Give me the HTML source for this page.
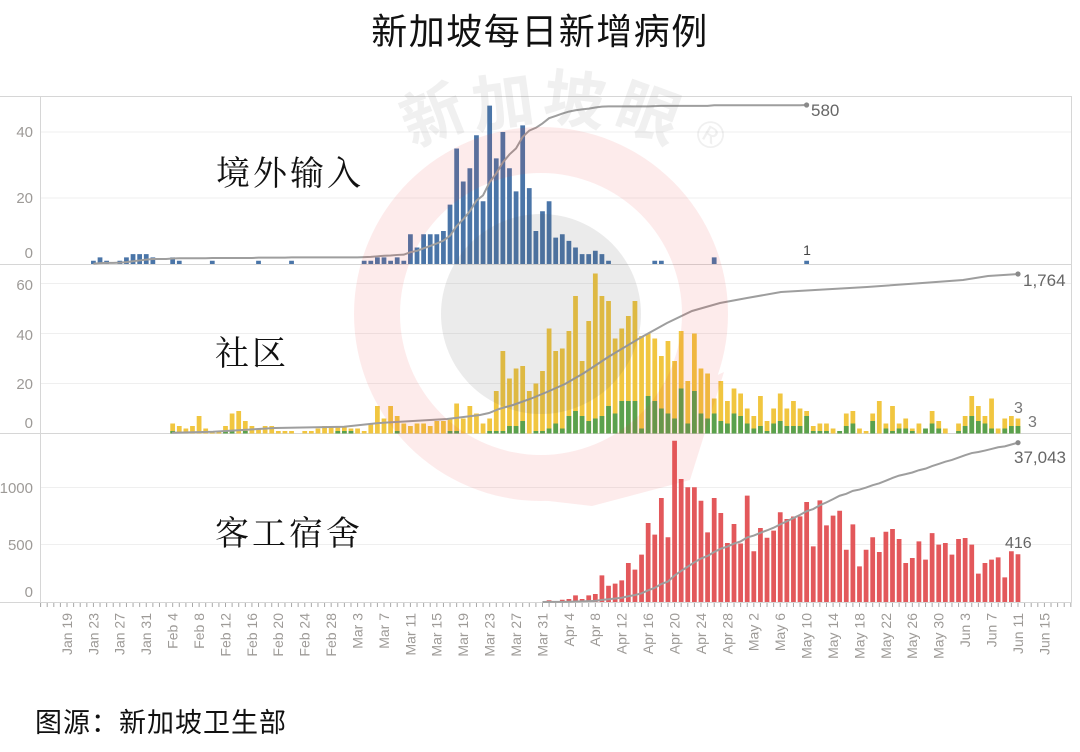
<!DOCTYPE html>
<html><head><meta charset="utf-8"><style>
html,body{margin:0;padding:0;background:#fff;}
svg{display:block;}
</style></head><body>
<svg width="1080" height="752" viewBox="0 0 1080 752" xmlns="http://www.w3.org/2000/svg" font-family="'Liberation Sans','Noto Sans CJK SC',sans-serif">
<rect width="1080" height="752" fill="#fff"/>
<defs>
<mask id="ring" maskUnits="userSpaceOnUse" x="0" y="0" width="1080" height="752">
<rect width="1080" height="752" fill="black"/>
<circle cx="541" cy="314" r="187" fill="white"/>
<polygon points="540,500 592,506 690,480 724,372 620,420" fill="white"/>
<circle cx="541" cy="314" r="141" fill="black"/>
</mask>
</defs>

<!-- title -->
<text x="540" y="44" text-anchor="middle" font-size="36" letter-spacing="1.5" fill="#111">新加坡每日新增病例</text>

<!-- gridlines -->
<g stroke="#efefef" stroke-width="1">
<line x1="41" y1="132" x2="1071" y2="132"/>
<line x1="41" y1="198" x2="1071" y2="198"/>
<line x1="41" y1="283.5" x2="1071" y2="283.5"/>
<line x1="41" y1="333.5" x2="1071" y2="333.5"/>
<line x1="41" y1="383.5" x2="1071" y2="383.5"/>
<line x1="41" y1="487.5" x2="1071" y2="487.5"/>
<line x1="41" y1="544.5" x2="1071" y2="544.5"/>
</g>

<!-- panel lines -->
<g stroke="#d6d6d6" stroke-width="1">
<line x1="0" y1="96.5" x2="1072" y2="96.5"/>
<line x1="0" y1="264.5" x2="1072" y2="264.5"/>
<line x1="0" y1="433.5" x2="1072" y2="433.5"/>
<line x1="0" y1="602.5" x2="1072" y2="602.5"/>
<line x1="40.5" y1="96" x2="40.5" y2="607"/>
<line x1="1071.5" y1="96" x2="1071.5" y2="602"/>
</g>
<line x1="40.1" y1="605" x2="1073" y2="605" stroke="#a8a8a8" stroke-width="4" stroke-dasharray="1 5.604"/>

<!-- top bars -->
<g transform="translate(67,264) scale(6.604,-3.3)">
<path fill="none" stroke="#4a75a8" stroke-width="0.72" d="M4 0V1M5 0V2M6 0V1M8 0V1M9 0V2M10 0V3M11 0V3M12 0V3M13 0V2M16 0V2M17 0V1M22 0V1M29 0V1M34 0V1M45 0V1M46 0V1M47 0V2M48 0V2M49 0V1M50 0V2M51 0V1M52 0V9M53 0V5M54 0V9M55 0V9M56 0V9M57 0V10M58 0V18M59 0V35M60 0V25M61 0V29M62 0V39M63 0V19M64 0V48M65 0V32M66 0V40M67 0V29M68 0V22M69 0V42M70 0V23M71 0V10M72 0V16M73 0V19M74 0V8M75 0V9M76 0V7M77 0V5M78 0V3M79 0V3M80 0V4M81 0V3M82 0V1M89 0V1M90 0V1M98 0V2M112 0V1"/>
</g>
<g transform="translate(67,264) scale(6.604,-0.2746)">
<polyline fill="none" stroke="#9e9e9e" stroke-width="2" vector-effect="non-scaling-stroke" points="4,1 5,3 6,4 7,4 8,5 9,7 10,10 11,13 12,16 13,18 15,18 16,20 17,21 21,21 22,22 28,22 29,23 33,23 34,24 44,24 45,25 46,26 47,28 48,30 49,31 50,33 51,34 52,43 53,48 54,57 55,66 56,75 57,85 58,103 59,138 60,163 61,192 62,231 63,250 64,298 65,330 66,370 67,399 68,421 69,463 70,486 71,496 72,512 73,531 74,539 75,548 76,555 77,560 78,563 79,566 80,570 81,573 82,574 88,574 89,575 90,576 97,576 98,578 111,578 112,579"/>
</g>

<!-- middle bars -->
<g transform="translate(67,433.5) scale(6.604,-2.5)">
<path fill="none" stroke="#f1c640" stroke-width="0.72" d="M16 0V4M17 0V3M18 0V2M19 0V3M20 0V7M21 0V2M22 0V1M23 0V1M24 0V3M25 0V8M26 0V9M27 0V5M28 0V3M29 0V2M30 0V3M31 0V3M32 0V1M33 0V1M34 0V1M36 0V1M37 0V1M38 0V2M39 0V3M40 0V3M41 0V3M42 0V3M43 0V2M44 0V2M45 0V1M46 0V4M47 0V11M48 0V6M49 0V11M50 0V7M51 0V4M52 0V3M53 0V4M54 0V4M55 0V3M56 0V5M57 0V5M58 0V6M59 0V12M60 0V6M61 0V11M62 0V8M63 0V4M64 0V6M65 0V17M66 0V33M67 0V22M68 0V26M69 0V27M70 0V17M71 0V20M72 0V25M73 0V42M74 0V33M75 0V34M76 0V41M77 0V55M78 0V29M79 0V45M80 0V64M81 0V55M82 0V53M83 0V38M84 0V42M85 0V47M86 0V53M87 0V39M88 0V40M89 0V38M90 0V31M91 0V37M92 0V29M93 0V41M94 0V21M95 0V40M96 0V26M97 0V24M98 0V14M99 0V21M100 0V13M101 0V18M102 0V16M103 0V10M104 0V7M105 0V15M106 0V5M107 0V10M108 0V16M109 0V10M110 0V13M111 0V10M112 0V9M113 0V3M114 0V4M115 0V4M116 0V2M117 0V1M118 0V8M119 0V9M120 0V2M121 0V1M122 0V8M123 0V13M124 0V4M125 0V11M126 0V4M127 0V6M128 0V2M129 0V4M130 0V2M131 0V9M132 0V5M133 0V2M135 0V4M136 0V7M137 0V15M138 0V11M139 0V7M140 0V14M141 0V2M142 0V6M143 0V7M144 0V6"/>
<path fill="none" stroke="#5aa14d" stroke-width="0.72" d="M16 0V1M24 0V1M25 0V1M27 0V1M41 0V1M42 0V1M43 0V1M50 0V1M58 0V1M59 0V1M64 0V1M65 0V1M66 0V1M67 0V3M68 0V3M69 0V5M71 0V1M72 0V1M73 0V2M74 0V4M75 0V2M76 0V7M77 0V9M78 0V7M79 0V5M80 0V6M81 0V7M82 0V11M83 0V8M84 0V13M85 0V13M86 0V13M87 0V2M88 0V15M89 0V13M90 0V10M91 0V8M92 0V6M93 0V18M94 0V4M95 0V17M96 0V8M97 0V6M98 0V8M99 0V5M100 0V4M101 0V8M102 0V7M103 0V4M104 0V2M105 0V3M106 0V1M107 0V4M108 0V5M109 0V3M110 0V3M111 0V3M112 0V7M113 0V1M114 0V1M115 0V1M117 0V1M118 0V3M119 0V4M122 0V5M124 0V2M125 0V1M126 0V2M127 0V2M128 0V1M130 0V2M131 0V4M132 0V2M135 0V1M136 0V3M137 0V7M138 0V5M139 0V4M140 0V2M142 0V2M143 0V3M144 0V3"/>
</g>
<polyline fill="none" stroke="#9e9e9e" stroke-width="2" points="172,432.7 213,431.7 275,428 344,426.7 379,423 447,419 480,415 489,413 499,409 513,405 530,399 547,392 565,384 584,373 609,356.5 640,338 667,323 692,311 720,303 747,298 781,292 815,290 867,287 919,283.3 963,280 988,276 1018,274"/>

<!-- bottom bars -->
<g transform="translate(67,602) scale(6.604,-0.1147)">
<path fill="none" stroke="#e3585b" stroke-width="0.72" d="M73 0V15M75 0V20M76 0V26M77 0V58M78 0V26M79 0V58M80 0V70M81 0V232M82 0V142M83 0V160M84 0V189M85 0V340M86 0V282M87 0V413M88 0V689M89 0V587M90 0V907M91 0V564M92 0V1406M93 0V1072M94 0V1000M95 0V1000M96 0V883M97 0V607M98 0V907M99 0V776M100 0V514M101 0V680M102 0V510M103 0V927M104 0V442M105 0V645M106 0V560M107 0V622M108 0V782M109 0V724M110 0V745M111 0V747M112 0V872M113 0V485M114 0V886M115 0V668M116 0V753M117 0V796M118 0V456M119 0V677M120 0V311M121 0V456M122 0V564M123 0V436M124 0V613M125 0V636M126 0V549M127 0V340M128 0V384M129 0V529M130 0V369M131 0V601M132 0V500M133 0V514M134 0V413M135 0V549M136 0V558M137 0V500M138 0V247M139 0V340M140 0V369M141 0V389M142 0V215M143 0V442M144 0V416"/>
</g>
<g transform="translate(67,602) scale(6.604,-0.004287)">
<polyline fill="none" stroke="#9e9e9e" stroke-width="2" vector-effect="non-scaling-stroke" points="72,0 73,15 74,15 75,35 76,61 77,119 78,145 79,203 80,273 81,505 82,647 83,807 84,996 85,1336 86,1618 87,2031 88,2720 89,3307 90,4214 91,4778 92,6184 93,7256 94,8256 95,9256 96,10139 97,10746 98,11653 99,12429 100,12943 101,13623 102,14133 103,15060 104,15502 105,16147 106,16707 107,17329 108,18111 109,18835 110,19580 111,20327 112,21199 113,21684 114,22570 115,23238 116,23991 117,24787 118,25243 119,25920 120,26231 121,26687 122,27251 123,27687 124,28300 125,28936 126,29485 127,29825 128,30209 129,30738 130,31107 131,31708 132,32208 133,32722 134,33135 135,33684 136,34242 137,34742 138,34989 139,35329 140,35698 141,36087 142,36302 143,36744 144,37160"/>
</g>

<!-- end dots -->
<g fill="#8a8a8a">
<circle cx="806.6" cy="105" r="2.6"/>
<circle cx="1018" cy="274" r="2.6"/>
<circle cx="1018" cy="442.7" r="2.6"/>
</g>

<!-- value labels -->
<g fill="#666">
<text x="811" y="116" font-size="17">580</text>
<text x="807" y="255" font-size="14" fill="#444" text-anchor="middle">1</text>
<text x="1023" y="286" font-size="17">1,764</text>
<text x="1014" y="463" font-size="17">37,043</text>
<text x="1005" y="548" font-size="16">416</text>
<text x="1018.5" y="413" font-size="16" text-anchor="middle" fill="#777">3</text>
<text x="1032.5" y="427" font-size="16" text-anchor="middle" fill="#777">3</text>
</g>

<!-- y axis labels -->
<g fill="#9d9a97" font-size="15" text-anchor="end">
<text x="33" y="137">40</text>
<text x="33" y="203">20</text>
<text x="33" y="258">0</text>
<text x="33" y="290">60</text>
<text x="33" y="340">40</text>
<text x="33" y="389">20</text>
<text x="33" y="428">0</text>
<text x="33" y="493">1000</text>
<text x="33" y="550">500</text>
<text x="33" y="597">0</text>
</g>

<!-- x axis labels -->
<g fill="#9d9a97" font-size="14" text-anchor="end">
<text transform="translate(67,613) rotate(-90)" dy="0.35em">Jan 19</text>
<text transform="translate(93.42,613) rotate(-90)" dy="0.35em">Jan 23</text>
<text transform="translate(119.83,613) rotate(-90)" dy="0.35em">Jan 27</text>
<text transform="translate(146.25,613) rotate(-90)" dy="0.35em">Jan 31</text>
<text transform="translate(172.66,613) rotate(-90)" dy="0.35em">Feb 4</text>
<text transform="translate(199.08,613) rotate(-90)" dy="0.35em">Feb 8</text>
<text transform="translate(225.5,613) rotate(-90)" dy="0.35em">Feb 12</text>
<text transform="translate(251.91,613) rotate(-90)" dy="0.35em">Feb 16</text>
<text transform="translate(278.33,613) rotate(-90)" dy="0.35em">Feb 20</text>
<text transform="translate(304.74,613) rotate(-90)" dy="0.35em">Feb 24</text>
<text transform="translate(331.16,613) rotate(-90)" dy="0.35em">Feb 28</text>
<text transform="translate(357.58,613) rotate(-90)" dy="0.35em">Mar 3</text>
<text transform="translate(383.99,613) rotate(-90)" dy="0.35em">Mar 7</text>
<text transform="translate(410.41,613) rotate(-90)" dy="0.35em">Mar 11</text>
<text transform="translate(436.82,613) rotate(-90)" dy="0.35em">Mar 15</text>
<text transform="translate(463.24,613) rotate(-90)" dy="0.35em">Mar 19</text>
<text transform="translate(489.66,613) rotate(-90)" dy="0.35em">Mar 23</text>
<text transform="translate(516.07,613) rotate(-90)" dy="0.35em">Mar 27</text>
<text transform="translate(542.49,613) rotate(-90)" dy="0.35em">Mar 31</text>
<text transform="translate(568.9,613) rotate(-90)" dy="0.35em">Apr 4</text>
<text transform="translate(595.32,613) rotate(-90)" dy="0.35em">Apr 8</text>
<text transform="translate(621.74,613) rotate(-90)" dy="0.35em">Apr 12</text>
<text transform="translate(648.15,613) rotate(-90)" dy="0.35em">Apr 16</text>
<text transform="translate(674.57,613) rotate(-90)" dy="0.35em">Apr 20</text>
<text transform="translate(700.98,613) rotate(-90)" dy="0.35em">Apr 24</text>
<text transform="translate(727.4,613) rotate(-90)" dy="0.35em">Apr 28</text>
<text transform="translate(753.82,613) rotate(-90)" dy="0.35em">May 2</text>
<text transform="translate(780.23,613) rotate(-90)" dy="0.35em">May 6</text>
<text transform="translate(806.65,613) rotate(-90)" dy="0.35em">May 10</text>
<text transform="translate(833.06,613) rotate(-90)" dy="0.35em">May 14</text>
<text transform="translate(859.48,613) rotate(-90)" dy="0.35em">May 18</text>
<text transform="translate(885.9,613) rotate(-90)" dy="0.35em">May 22</text>
<text transform="translate(912.31,613) rotate(-90)" dy="0.35em">May 26</text>
<text transform="translate(938.73,613) rotate(-90)" dy="0.35em">May 30</text>
<text transform="translate(965.14,613) rotate(-90)" dy="0.35em">Jun 3</text>
<text transform="translate(991.56,613) rotate(-90)" dy="0.35em">Jun 7</text>
<text transform="translate(1017.98,613) rotate(-90)" dy="0.35em">Jun 11</text>
<text transform="translate(1044.39,613) rotate(-90)" dy="0.35em">Jun 15</text>
</g>

<!-- watermark overlay -->
<rect width="1080" height="752" fill="rgba(235,60,60,0.10)" mask="url(#ring)"/>
<circle cx="541" cy="314" r="100" fill="rgba(90,90,90,0.12)"/>
<g fill="rgba(110,110,110,0.10)" font-weight="bold" font-size="62" text-anchor="middle" font-family="'Liberation Sans','Noto Sans CJK SC',sans-serif">
<text transform="translate(441,136) rotate(-22)">新</text>
<text transform="translate(506,124) rotate(-8)">加</text>
<text transform="translate(572,122) rotate(7)">坡</text>
<text transform="translate(641,134) rotate(20)">眼</text>
<text transform="translate(704,146) rotate(30)" font-size="38" font-weight="normal">®</text>
</g>

<!-- section labels -->
<g font-family="'Liberation Serif','Noto Serif CJK SC',serif" font-size="34" fill="#111" letter-spacing="3">
<text x="216" y="185">境外输入</text>
<text x="215" y="365">社区</text>
<text x="215" y="545">客工宿舍</text>
</g>

<!-- footer -->
<text x="35" y="732" font-size="27" letter-spacing="1" fill="#111">图源：新加坡卫生部</text>
</svg>
</body></html>
